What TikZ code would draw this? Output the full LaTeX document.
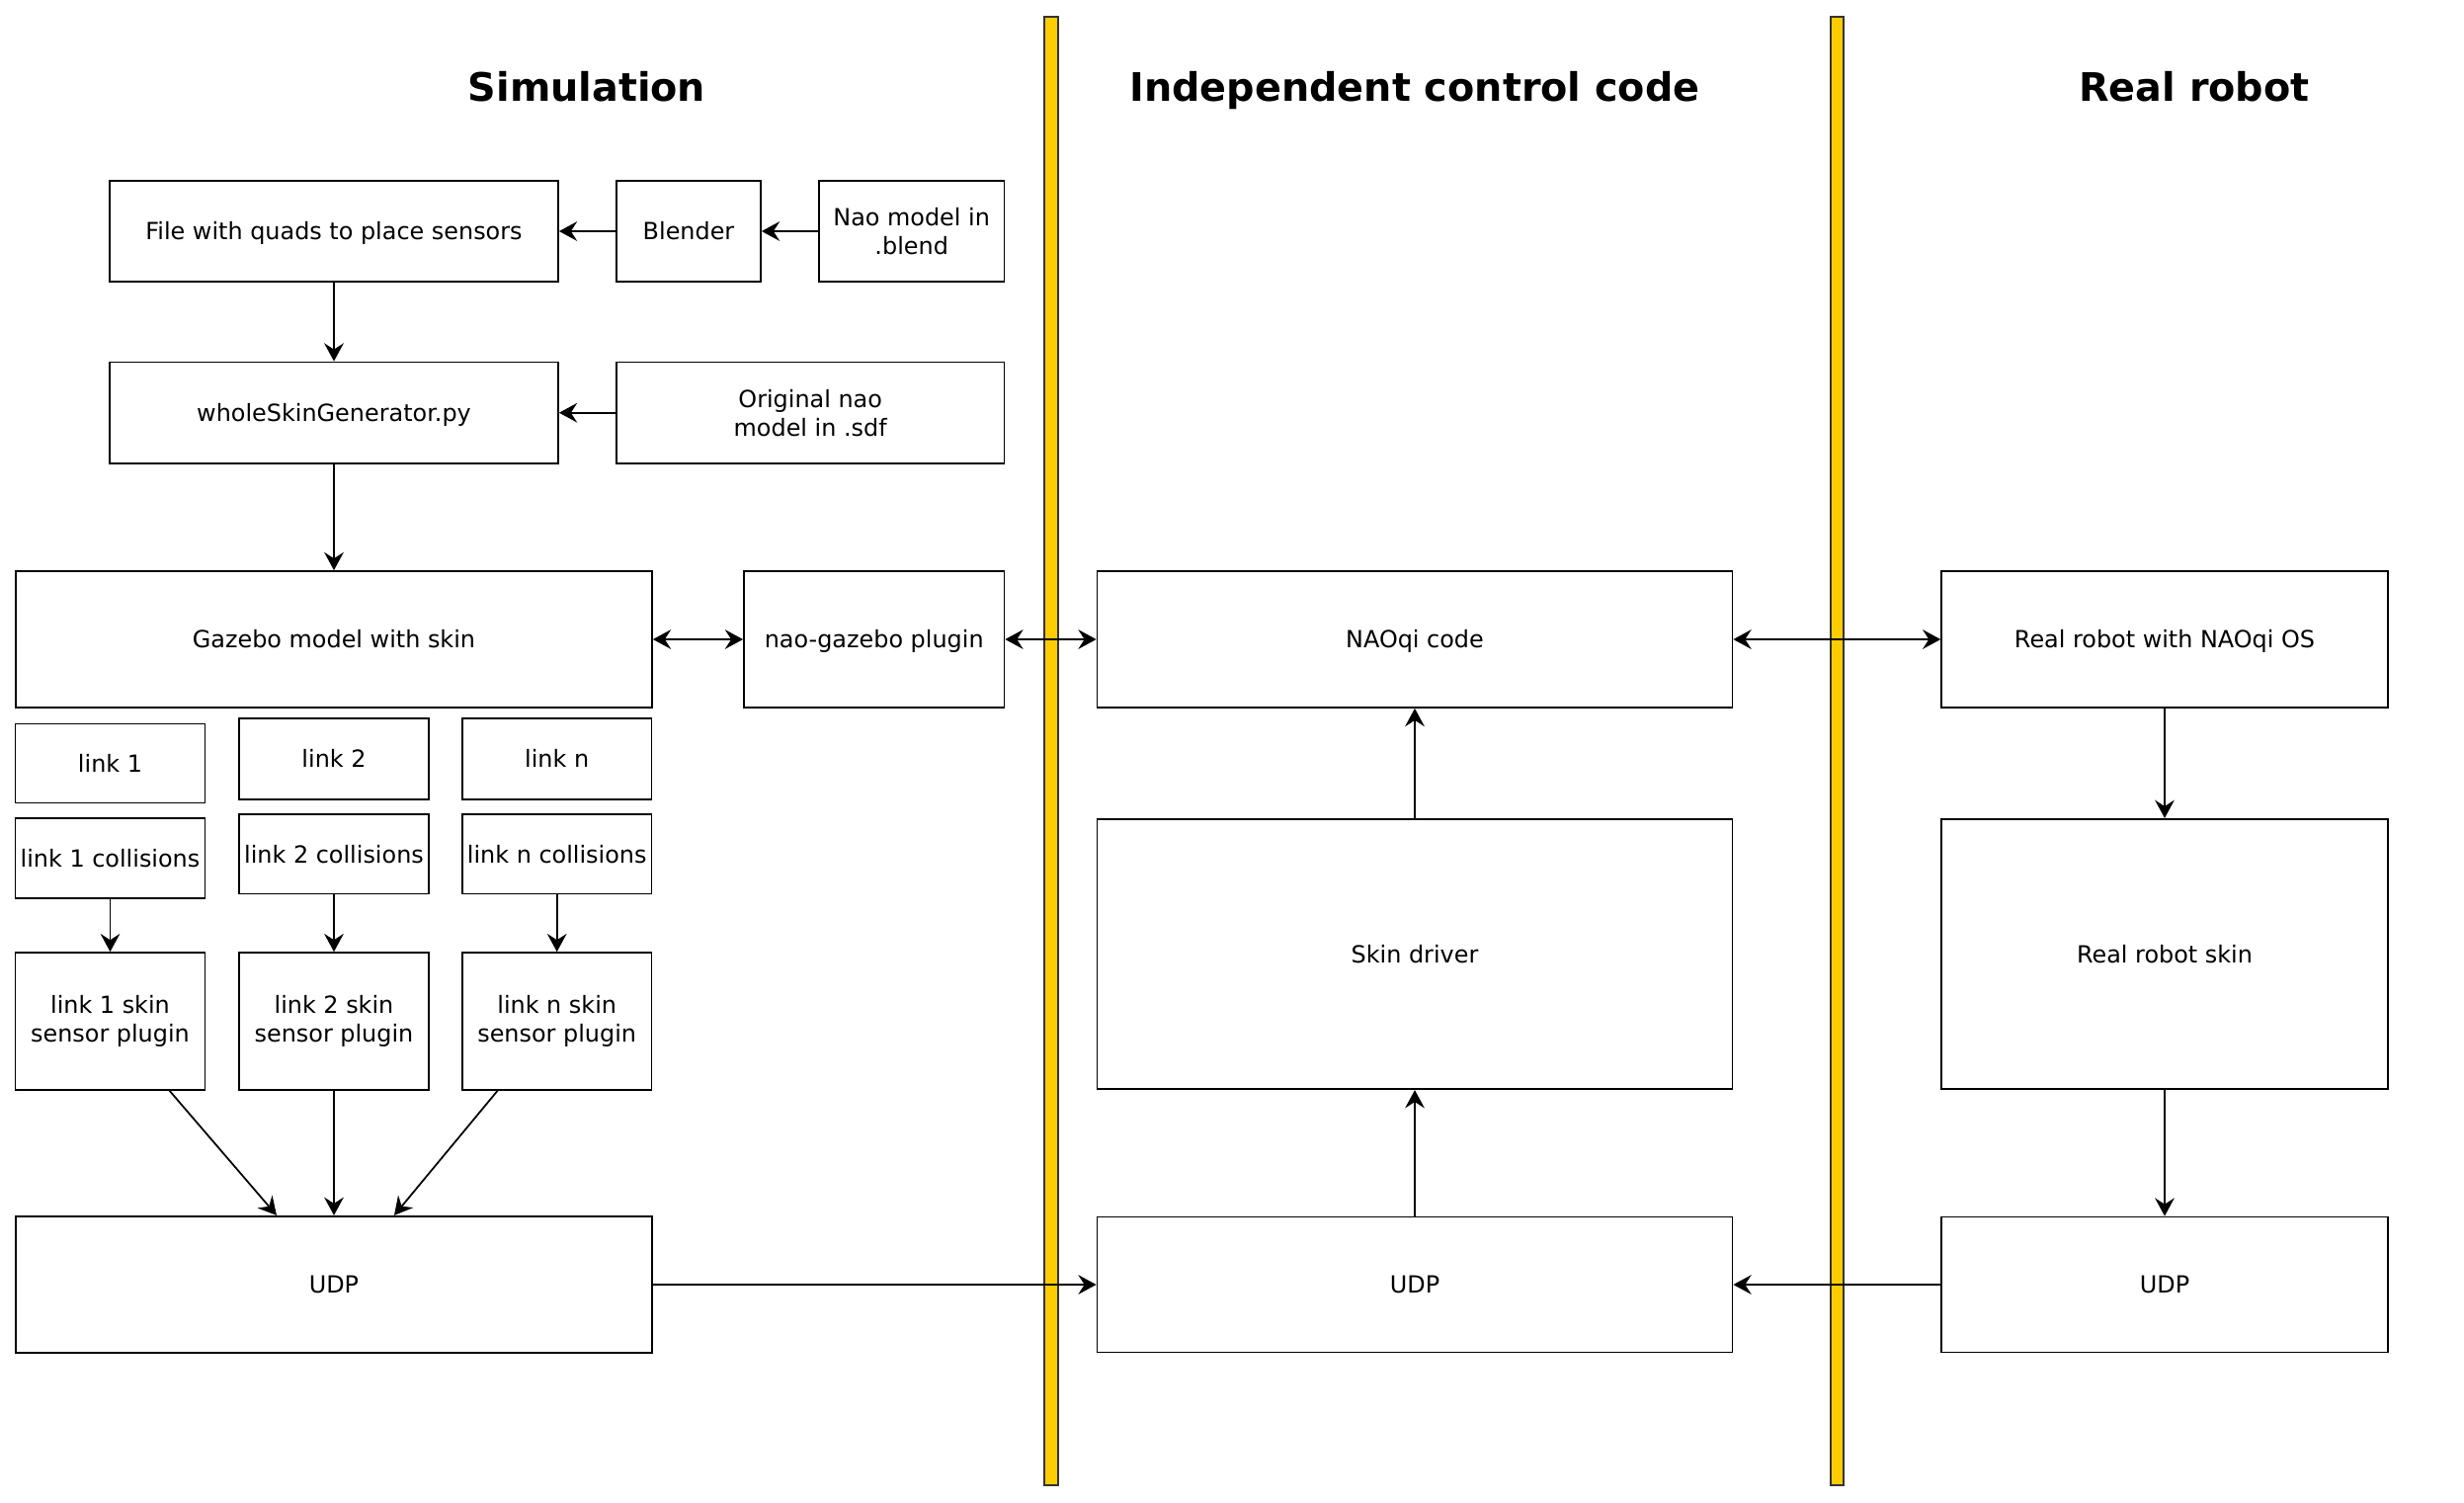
\documentclass[tikz,border=0pt]{standalone}
\usepackage{fontspec}
\setmainfont{DejaVu Sans}
\usepackage{tikz}
\usetikzlibrary{arrows.meta}
\usetikzlibrary{positioning}

\tikzset{
  box2/.style={draw, line width=0.5pt, inner sep=0pt, align=center,
    font=\fontsize{6.8}{8.2}\selectfont},
  box/.style={box2, text height=5pt, text depth=0pt},
  title/.style={font=\fontsize{11.3}{13}\selectfont\bfseries, text height=8.6pt, text depth=0pt},
  divider/.style={draw=black!80, line width=0.5pt, fill=barfill},
  link/.style={line width=0.5pt, -{Stealth[length=5.2pt,width=5.6pt,inset=1.8pt]}},
  both/.style={line width=0.5pt, {Stealth[length=5.2pt,width=5.6pt,inset=1.8pt]}-{Stealth[length=5.2pt,width=5.6pt,inset=1.8pt]}}
}
\definecolor{barfill}{RGB}{255,204,0}

\begin{document}
\begin{tikzpicture}
\useasboundingbox (0,0) rectangle (24.94,-15.20);

\draw[divider] (10.57,-0.17) rectangle (10.71,-15.03);
\draw[divider] (18.53,-0.17) rectangle (18.66,-15.03);

\node[title] (tsim) at (5.94,-0.87) {Simulation};
\node[title] (tind) at (14.32,-0.87) {Independent control code};
\node[title] (treal) at (22.21,-0.87) {Real robot};

\node[box, minimum width=4.54cm, minimum height=1.025cm] (quads) at (3.38,-2.34) {File with quads to place sensors};
\node[box, minimum width=1.46cm, minimum height=1.025cm] (blender) at (6.97,-2.34) {Blender};
\node[box2, minimum width=1.875cm, minimum height=1.025cm] (naoblend) at (9.227,-2.34) {Nao model in\\.blend};
\node[box, minimum width=4.54cm, minimum height=1.025cm] (gen) at (3.38,-4.177) {wholeSkinGenerator.py};
\node[box2, minimum width=3.925cm, minimum height=1.025cm] (orig) at (8.202,-4.177) {Original nao\\model in .sdf};
\node[box, minimum width=6.44cm, minimum height=1.38cm] (gazebo) at (3.38,-6.47) {Gazebo model with skin};
\node[box, minimum width=2.635cm, minimum height=1.38cm] (naogz) at (8.847,-6.47) {nao-gazebo plugin};

\node[box, minimum width=1.92cm, minimum height=0.80cm] (link1) at (1.115,-7.724) {link 1};
\node[box, minimum width=1.915cm, minimum height=0.82cm] (link2) at (3.38,-7.68) {link 2};
\node[box, minimum width=1.915cm, minimum height=0.82cm] (linkn) at (5.637,-7.68) {link n};
\node[box, minimum width=1.92cm, minimum height=0.81cm] (coll1) at (1.115,-8.685) {link 1 collisions};
\node[box, minimum width=1.915cm, minimum height=0.805cm] (coll2) at (3.38,-8.642) {link 2 collisions};
\node[box, minimum width=1.915cm, minimum height=0.805cm] (colln) at (5.637,-8.642) {link n collisions};
\node[box2, minimum width=1.92cm, minimum height=1.387cm] (skin1) at (1.115,-10.334) {link 1 skin\\sensor plugin};
\node[box2, minimum width=1.915cm, minimum height=1.387cm] (skin2) at (3.38,-10.334) {link 2 skin\\sensor plugin};
\node[box2, minimum width=1.915cm, minimum height=1.387cm] (skinn) at (5.637,-10.334) {link n skin\\sensor plugin};
\node[box, minimum width=6.44cm, minimum height=1.385cm] (udpsim) at (3.38,-13.0) {UDP};

\node[box, minimum width=6.43cm, minimum height=1.38cm] (naoqi) at (14.32,-6.47) {NAOqi code};
\node[box, minimum width=6.43cm, minimum height=2.734cm] (driver) at (14.32,-9.655) {Skin driver};
\node[box, minimum width=6.43cm, minimum height=1.37cm] (udpmid) at (14.32,-13.0) {UDP};

\node[box, minimum width=4.517cm, minimum height=1.38cm] (realos) at (21.91,-6.47) {Real robot with NAOqi OS};
\node[box, minimum width=4.517cm, minimum height=2.734cm] (realskin) at (21.91,-9.655) {Real robot skin};
\node[box, minimum width=4.517cm, minimum height=1.37cm] (udpreal) at (21.91,-13.0) {UDP};

\draw[link] (blender) -- (quads);
\draw[link] (naoblend) -- (blender);
\draw[link] (quads) -- (gen);
\draw[link] (orig) -- (gen);
\draw[link] (gen) -- (gazebo);
\draw[both] (gazebo) -- (naogz);
\draw[both] (naogz) -- (naoqi);
\draw[both] (naoqi) -- (realos);

\draw[link] (coll1) -- (skin1);
\draw[link] (coll2) -- (skin2);
\draw[link] (colln) -- (skinn);
\draw[link] ([xshift=6mm]skin1.south) -- ([xshift=-5.8mm]udpsim.north);
\draw[link] (skin2) -- (udpsim);
\draw[link] ([xshift=-6mm]skinn.south) -- ([xshift=6.1mm]udpsim.north);

\draw[link] (udpsim) -- (udpmid);
\draw[link] (udpmid) -- (driver);
\draw[link] (driver) -- (naoqi);
\draw[link] (realos) -- (realskin);
\draw[link] (realskin) -- (udpreal);
\draw[link] (udpreal) -- (udpmid);
\end{tikzpicture}
\end{document}
